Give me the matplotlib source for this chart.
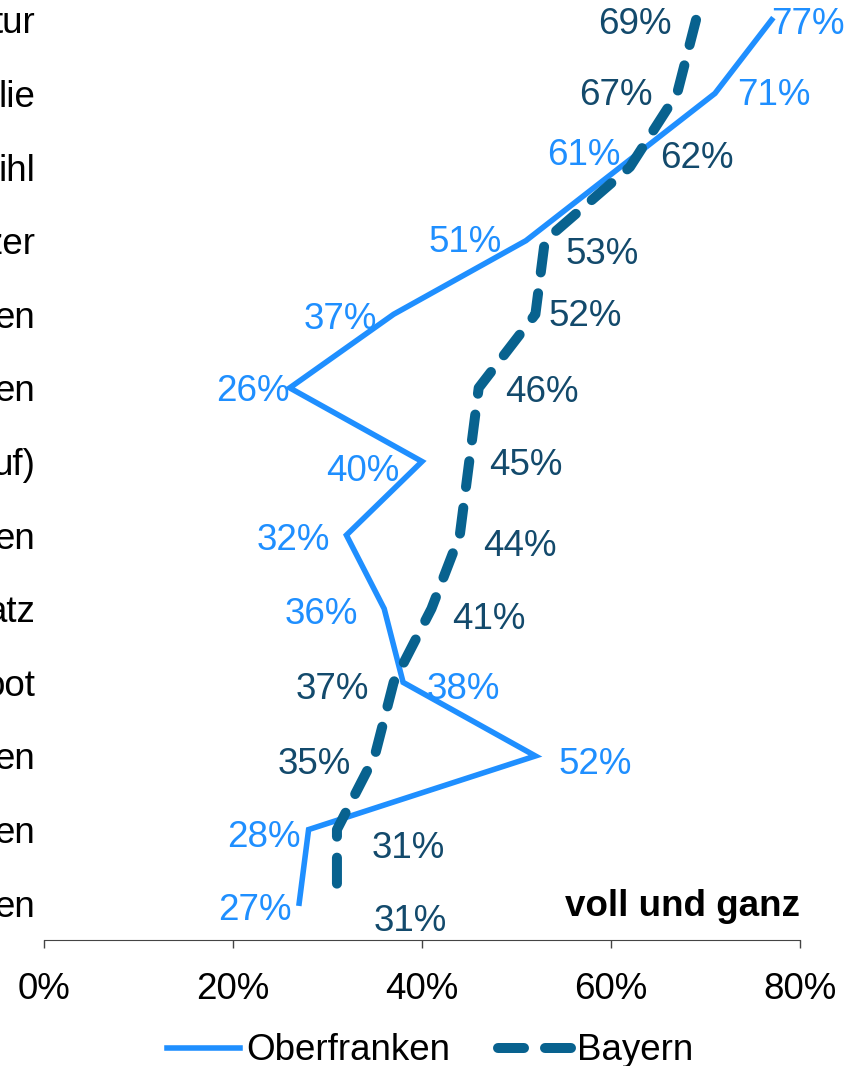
import matplotlib
matplotlib.use("Agg")
import matplotlib.pyplot as plt

plt.rcParams['font.family'] = ['Liberation Sans', 'DejaVu Sans']

# ---- data ----
categories = ["tur", "lie", "ihl", "zer", "en", "en", "uf)", "en", "atz", "oot", "en", "en", "en"]
oberfranken = [77, 71, 61, 51, 37, 26, 40, 32, 36, 38, 52, 28, 27]
bayern = [69, 67, 62, 53, 52, 46, 45, 44, 41, 37, 35, 31, 31]
x_ticks = [0, 20, 40, 60, 80]

# ---- label offsets (pixels, x right / y down) ----
ob_off = [(36, 2), (59, -1), (-37, -15), (-61, -1), (-53, 2), (-37, 1), (-59, 7),
          (-53, 2), (-63, 3), (60, 4), (60, 6), (-45, 5), (-44, 4)]
by_off = [(-61, 2), (-61, -1), (67, -12), (57, 11), (50, -1), (63, 2), (57, 1),
          (60, 8), (57, 8), (-61, 4), (-61, 6), (71, 16), (73, 15)]
Y_SHIFT = 3

C_OB = '#1f8fff'
C_BY = '#08628f'
C_BY_TXT = '#134a6c'
FS = 26.5

W, H = 860, 1066
fig = plt.figure(figsize=(W / 100, H / 100), dpi=100)
ax_top = -17
ax_bot = 940
ax = fig.add_axes([44 / W, (H - ax_bot) / H, (800 - 44) / W, (ax_bot - ax_top) / H])

ys = list(range(len(categories)))
ax.plot(oberfranken, ys, color=C_OB, lw=4.0, solid_joinstyle='miter', label='Oberfranken', clip_on=False)
ax.plot(bayern, ys, color=C_BY, lw=7.2, dashes=(2.6, 2.1), dash_capstyle='round',
        label='Bayern', clip_on=False)

for i, v in enumerate(oberfranken):
    dx, dy = ob_off[i]
    ax.annotate(f"{v}%", (v, i), xytext=(dx * 0.72, -(dy + Y_SHIFT) * 0.72), textcoords='offset points',
                ha='center', va='center', fontsize=FS, color=C_OB, annotation_clip=False)
for i, v in enumerate(bayern):
    dx, dy = by_off[i]
    ax.annotate(f"{v}%", (v, i), xytext=(dx * 0.72, -(dy + Y_SHIFT) * 0.72), textcoords='offset points',
                ha='center', va='center', fontsize=FS, color=C_BY_TXT, annotation_clip=False)

ax.annotate("voll und ganz", (80, 12), xytext=(0, -Y_SHIFT * 0.72), textcoords='offset points',
            ha='right', va='center', fontsize=FS, fontweight='bold', color='black')

ax.set_xlim(0, 80)
ax.set_ylim(len(categories) - 0.5, -0.5)
ax.set_xticks(x_ticks)
ax.set_xticklabels([f"{t}%" for t in x_ticks], fontsize=FS)
ax.set_yticks(ys)
ax.set_yticklabels(categories, fontsize=FS)
ax.tick_params(axis='y', length=0, pad=6)
ax.tick_params(axis='x', length=6, width=1, direction='out', pad=17, color='#444444')
for s in ['top', 'right', 'left']:
    ax.spines[s].set_visible(False)
ax.spines['bottom'].set_color('#444444')
ax.patch.set_alpha(0)

fig.legend(loc='center', bbox_to_anchor=(0.5, 1 - 1051 / H), ncol=2, frameon=False,
           fontsize=FS, handlelength=2.0, handletextpad=0.15, columnspacing=1.3,
           borderpad=0, borderaxespad=0)

fig.savefig('out.png', dpi=100)
